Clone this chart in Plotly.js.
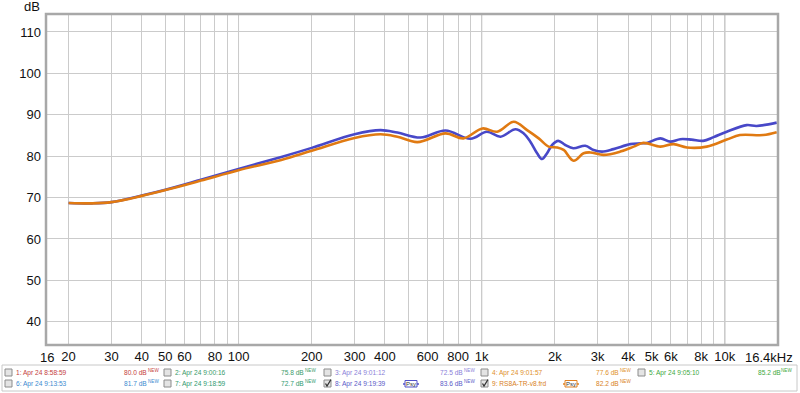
<!DOCTYPE html>
<html><head><meta charset="utf-8">
<script src="https://cdn.plot.ly/plotly-3.0.1.min.js"></script>
<style>html,body{margin:0;padding:0;background:#fff;}#chart{width:800px;height:393px;}</style>
</head><body><div id="chart"></div>
<script>
// ---- data ----
const blueFreq = [20,25,30,40,50,70,100,150,200,300,384,450,561,710,900,1050,1195,1377,1489,1586,1691,1771,1858,1949,2066,2208,2382,2668,2887,3127,3486,4086,4490,4785,5435,5971,6561,7300,8149,9000,10190,12300,13520,16360];
const blueDB   = [68.7,68.6,68.9,70.5,71.9,74.3,76.9,79.8,82.0,85.3,86.3,85.7,84.5,86.2,84.2,85.9,84.7,86.5,85.5,83.5,80.7,79.3,80.7,82.7,83.7,82.7,81.9,82.5,81.5,81.1,81.7,82.9,83.1,83.2,84.3,83.5,84.1,84.0,83.7,84.6,85.9,87.5,87.3,88.1];
const orangeFreq = [20,25,30,40,50,70,100,150,200,300,384,450,544,710,842,1008,1158,1355,1538,1717,1887,2042,2174,2389,2625,2797,3170,3717,4218,4630,5435,6158,6985,8436,10190,11540,14390,16360];
const orangeDB   = [68.7,68.6,68.9,70.4,71.8,74.1,76.6,79.1,81.3,84.4,85.3,84.7,83.4,85.5,84.3,86.7,85.9,88.3,86.3,84.3,82.3,82.1,81.5,78.9,80.7,80.9,80.3,81.1,82.3,83.2,82.3,82.9,82.1,82.3,84.0,85.1,85.1,85.8];

const gridFreqs = [20,30,40,50,60,70,80,90,100,200,300,400,500,600,700,800,900,1000,2000,3000,4000,5000,6000,7000,8000,9000,10000];
const labelFreqs = [20,30,40,50,60,80,100,200,300,400,600,800,1000,2000,3000,4000,5000,6000,8000,10000];
const labelTexts = ['20','30','40','50','60','80','100','200','300','400','600','800','1k','2k','3k','4k','5k','6k','8k','10k'];
const decadeFreqs = [100,1000,10000];
const yTicks = [40,50,60,70,80,90,100,110];

const legendRow1 = [
  {label:'1: Apr 24 8:58:59', value:'80.0 dB', color:'#c43c3c', checked:false},
  {label:'2: Apr 24 9:00:16', value:'75.8 dB', color:'#3a9a6a', checked:false},
  {label:'3: Apr 24 9:01:12', value:'72.5 dB', color:'#8a80d8', checked:false},
  {label:'4: Apr 24 9:01:57', value:'77.6 dB', color:'#e0902a', checked:false},
  {label:'5: Apr 24 9:05:10', value:'85.2 dB', color:'#40a840', checked:false}
];
const legendRow2 = [
  {label:'6: Apr 24 9:13:53', value:'81.7 dB', color:'#3c8ad0', checked:false},
  {label:'7: Apr 24 9:18:59', value:'72.7 dB', color:'#2f9a70', checked:false},
  {label:'8: Apr 24 9:19:39', value:'83.6 dB', color:'#5a5ac8', checked:true, psy:'#5050c8'},
  {label:'9: RS8A-TR-v8.frd', value:'82.2 dB', color:'#d8801c', checked:true, psy:'#e08020'}
];

// ---- layout geometry (pixels) ----
const W=800,H=393, L=47, R=777, T=15, B=344;
const px = x => (x-L)/(R-L);
const py = y => (B-y)/(B-T);
const xMin = 16.3, xMax = 16400;
const FONT = 'Liberation Sans, Arial';

const shapes = [];
const annotations = [];

decadeFreqs.forEach(f=>shapes.push({type:'line',xref:'x',yref:'paper',x0:f,x1:f,y0:0,y1:1,line:{color:'#8a8a8a',width:1},layer:'below'}));
shapes.push({type:'rect',xref:'paper',yref:'paper',x0:px(46),x1:px(778),y0:py(345),y1:py(14),line:{color:'#a8a8a8',width:2.5}});

annotations.push({xref:'paper',yref:'paper',x:px(47),y:py(357),text:'16',showarrow:false,xanchor:'center',yanchor:'middle',font:{family:FONT,size:13,color:'#111'}});
annotations.push({xref:'paper',yref:'paper',x:px(795),y:py(357),text:'16.4kHz',showarrow:false,xanchor:'right',yanchor:'middle',font:{family:FONT,size:13,color:'#111'}});
annotations.push({xref:'paper',yref:'paper',x:px(42),y:py(7),text:'dB',showarrow:false,xanchor:'right',yanchor:'middle',font:{family:FONT,size:13,color:'#111'}});

shapes.push({type:'rect',xref:'paper',yref:'paper',x0:px(2),x1:px(797),y0:py(391),y1:py(365),line:{color:'#c8c8c8',width:1},fillcolor:'#fff'});
const colLabelX = [14,173,333,490,647];
const colValueX = [122,279,438,594,756];
const psyX = [0,0,411,571];
function addRow(items, yc){
  items.forEach((it,i)=>{
    const cx = colLabelX[i]-9;
    shapes.push({type:'rect',xref:'paper',yref:'paper',x0:px(cx),x1:px(cx+7),y0:py(yc+3.5),y1:py(yc-3.5),line:{color:'#8c8c8c',width:1},fillcolor:'#e4e4e4'});
    if(it.checked){
      shapes.push({type:'path',xref:'paper',yref:'paper',path:`M ${px(cx+1.5)} ${py(yc)} L ${px(cx+3)} ${py(yc+2.5)} L ${px(cx+7)} ${py(yc-4)}`,line:{color:'#333',width:1.3}});
    }
    annotations.push({xref:'paper',yref:'paper',x:px(colLabelX[i]),y:py(yc),text:it.label,showarrow:false,xanchor:'left',yanchor:'middle',font:{family:FONT,size:6.6,color:it.color}});
    annotations.push({xref:'paper',yref:'paper',x:px(colValueX[i]),y:py(yc),text:it.value,showarrow:false,xanchor:'left',yanchor:'middle',font:{family:FONT,size:6.6,color:it.color}});
    annotations.push({xref:'paper',yref:'paper',x:px(colValueX[i]+23.5),y:py(yc-2),text:'NEW',showarrow:false,xanchor:'left',yanchor:'middle',font:{family:FONT,size:4.6,color:it.color}});
    if(it.psy){
      const c = psyX[i];
      shapes.push({type:'line',xref:'paper',yref:'paper',x0:px(c-8),x1:px(c+8),y0:py(yc+0.5),y1:py(yc+0.5),line:{color:it.psy,width:1.5}});
      shapes.push({type:'rect',xref:'paper',yref:'paper',x0:px(c-6),x1:px(c+6),y0:py(yc+3.5),y1:py(yc-3),line:{color:it.psy,width:1},fillcolor:'#fff'});
      annotations.push({xref:'paper',yref:'paper',x:px(c),y:py(yc+0.3),text:'Psy',showarrow:false,xanchor:'center',yanchor:'middle',font:{family:FONT,size:6,color:'#333'}});
    }
  });
}
addRow(legendRow1, 372.5);
addRow(legendRow2, 383.5);

const traces = [
  {x:blueFreq,y:blueDB,type:'scatter',mode:'lines',line:{color:'#4848c8',width:2.6,shape:'spline',smoothing:1},hoverinfo:'skip'},
  {x:orangeFreq,y:orangeDB,type:'scatter',mode:'lines',line:{color:'#e07a12',width:2.6,shape:'spline',smoothing:1},hoverinfo:'skip'}
];

const layout = {
  width:W,height:H,
  margin:{l:L,r:W-R,t:T,b:H-B,pad:0},
  paper_bgcolor:'#fff',plot_bgcolor:'#fff',
  showlegend:false,
  font:{family:FONT,size:13,color:'#111'},
  xaxis:{type:'log',range:[Math.log10(xMin),Math.log10(xMax)],tickmode:'array',tickvals:labelFreqs,ticktext:labelTexts,
         showgrid:true,gridcolor:'#cbcbcb',gridwidth:1,zeroline:false,showline:false,ticks:'',ticklen:0,ticklabelstandoff:3,
         minor:{tickmode:'array',tickvals:gridFreqs,showgrid:true,gridcolor:'#cbcbcb',gridwidth:1,ticks:''},
         tickfont:{family:FONT,size:13,color:'#111'},fixedrange:true},
  yaxis:{range:[34.62,114.1],tickmode:'array',tickvals:yTicks,showgrid:true,gridcolor:'#cbcbcb',gridwidth:1,zeroline:false,showline:false,
         ticks:'',ticklabelstandoff:5,tickfont:{family:FONT,size:13,color:'#111'},fixedrange:true},
  shapes:shapes,annotations:annotations
};
Plotly.newPlot('chart',traces,layout,{displayModeBar:false,staticPlot:true});
</script></body></html>
